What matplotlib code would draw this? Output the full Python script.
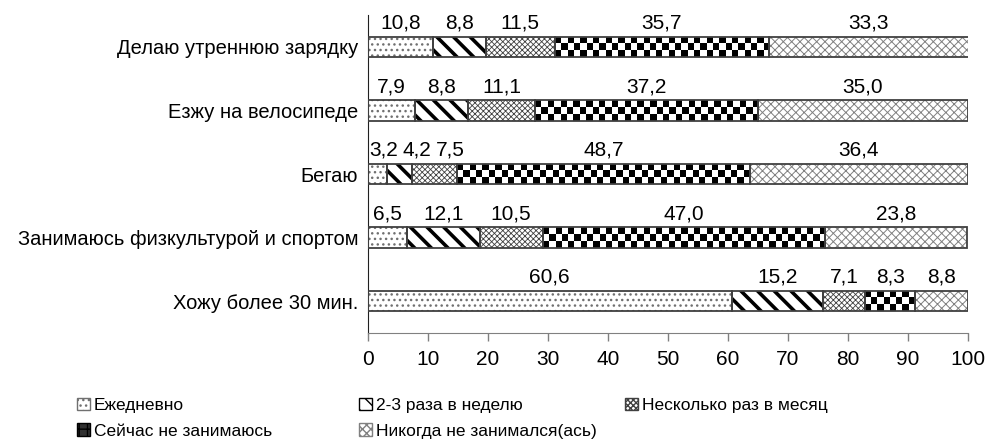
import numpy as np
import matplotlib
matplotlib.use('Agg')
import matplotlib.pyplot as plt
from matplotlib.patches import Patch

plt.rcParams['font.family'] = ['Liberation Sans', 'DejaVu Sans']

categories = ['Делаю утреннюю зарядку', 'Езжу на велосипеде', 'Бегаю',
              'Занимаюсь физкультурой и спортом', 'Хожу более 30 мин.']
series = ['Ежедневно', '2-3 раза в неделю', 'Несколько раз в месяц',
          'Сейчас не занимаюсь', 'Никогда не занимался(ась)']
daily = [10.8, 7.9, 3.2, 6.5, 60.6]
weekly = [8.8, 8.8, 4.2, 12.1, 15.2]
monthly = [11.5, 11.1, 7.5, 10.5, 7.1]
not_now = [35.7, 37.2, 48.7, 47.0, 8.3]
never = [33.3, 35.0, 36.4, 23.8, 8.8]
values = [daily, weekly, monthly, not_now, never]

# hatch, hatch colour, hatch line width
styles = [('...', '#707070', 1.0),
          ('\\\\', 'black', 2.6),
          ('xxxxxx', '#404040', 0.6),
          (None, None, None),      # checkerboard, drawn as image
          ('////\\\\\\\\', '#808080', 0.7)]

fig = plt.figure(figsize=(9.89, 4.43), dpi=100)
ax = fig.add_axes([0.372, 0.2483, 0.6068, 0.7177])

y = np.arange(len(categories))
left = np.zeros(len(categories))
bar_h = 0.32
handles = []
label_x = [[] for _ in categories]
label_txt = [[] for _ in categories]
for vals, (hatch, hcol, hlw) in zip(values, styles):
    vals = np.array(vals)
    if hatch is not None:
        with plt.rc_context({'hatch.linewidth': hlw}):
            bars = ax.barh(y, vals, left=left, height=bar_h, color='white',
                           edgecolor=hcol, hatch=hatch, linewidth=0)
            for b in bars:
                try:
                    b.set_hatch_linewidth(hlw)
                except AttributeError:
                    pass
        handles.append(Patch(facecolor='white', edgecolor=hcol, hatch=hatch))
    else:
        bars = ax.barh(y, vals, left=left, height=bar_h, color='white',
                       linewidth=0)
        for b in bars:
            x0, y0 = b.get_x(), b.get_y()
            w, h = b.get_width(), b.get_height()
            nx = max(int(round(w / 1.05)), 1)
            ny = 3
            img = (np.indices((ny, nx)).sum(axis=0) % 2)
            im = ax.imshow(img, cmap='gray', extent=(x0, x0 + w, y0, y0 + h),
                           aspect='auto', interpolation='nearest', zorder=2)
            im.set_clip_path(b)
        handles.append(Patch(facecolor='#303030', edgecolor='black', hatch='++'))
    # outlines
    ax.barh(y, vals, left=left, height=bar_h, fill=False,
            edgecolor='#404040', linewidth=1.3, zorder=3)
    for i, (l, v) in enumerate(zip(left, vals)):
        label_x[i].append(l + v / 2)
        label_txt[i].append(f'{v:.1f}'.replace('.', ','))
    left = left + vals

# value labels, pushed apart a little where segments are narrow
for i, yi in enumerate(y):
    prev = None
    for cx, t in zip(label_x[i], label_txt[i]):
        pos = max(cx, 2.6)
        if prev is not None:
            pos = max(pos, prev + 5.6)
        prev = pos
        ax.annotate(t, (pos, yi - bar_h / 2), xytext=(0, 3),
                    textcoords='offset points', ha='center', va='bottom',
                    fontsize=15)

ax.set_xlim(0, 100)
ax.set_ylim(len(categories) - 0.5, -0.5)
ax.set_xticks(range(0, 101, 10))
ax.set_yticks(y)
ax.set_yticklabels(categories, fontsize=14.5)
ax.tick_params(axis='y', length=0, pad=7)
ax.tick_params(axis='x', length=6, width=1, color='#808080', labelsize=15, pad=6)
for s in ['top', 'right']:
    ax.spines[s].set_visible(False)
ax.spines['left'].set_color('#202020')
ax.spines['bottom'].set_color('#808080')

# legend: two rows, fixed columns
legend_pos = [(0.078, 0.085), (0.363, 0.085), (0.632, 0.085),
              (0.078, 0.027), (0.363, 0.027)]
for h, lab, (lx, ly) in zip(handles, series, legend_pos):
    fig.legend(handles=[h], labels=[lab], loc='center left',
               bbox_to_anchor=(lx, ly), frameon=False, fontsize=12.5,
               handlelength=0.75, handleheight=0.75, handletextpad=0.2,
               borderpad=0, borderaxespad=0)

fig.savefig('out.png', dpi=100)
